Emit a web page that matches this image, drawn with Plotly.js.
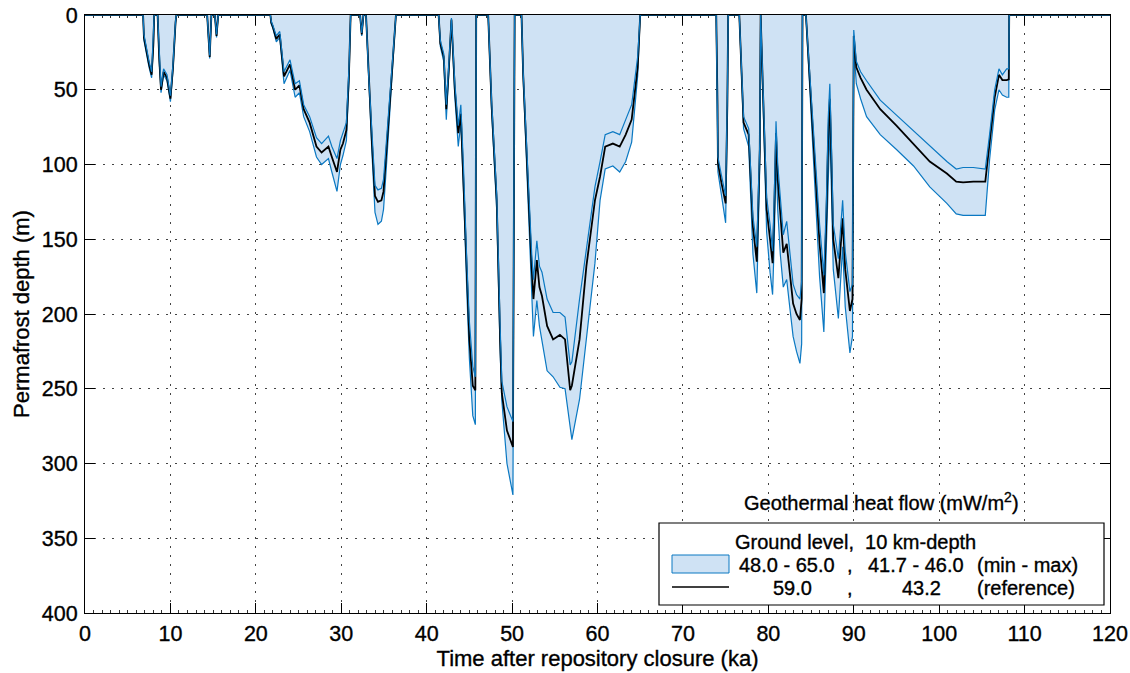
<!DOCTYPE html>
<html>
<head>
<meta charset="utf-8">
<script src="https://cdn.plot.ly/plotly-3.0.1.min.js"></script>
<style>
  html, body { margin: 0; padding: 0; background: #ffffff; }
  #chart { width: 1130px; height: 673px; }
  #chart svg text { stroke: #000000; stroke-width: 0.35px; }
</style>
</head>
<body>
<div id="chart"></div>
<script>
// Time after repository closure (ka)
const time = [
  0, 6.8, 6.9, 7.2, 7.5, 7.8, 8.0, 8.1,
  8.5, 8.7, 8.9, 9.2, 9.6, 10.0, 10.3, 10.6, 10.7,
  14.3, 14.6, 14.8, 15.2, 15.4, 15.6,
  21.7, 21.8, 22.0, 22.4, 22.8, 23.3, 24.0, 24.6, 25.1, 25.6, 26.3, 27.1, 27.7, 28.5, 28.9, 29.5, 29.9, 30.2, 30.6, 30.9, 31.1,
  32.2, 32.4, 32.6,
  32.9, 33.2, 33.6, 33.95, 34.3, 34.7, 34.95, 35.3, 35.9, 36.4,
  41.4, 41.6, 42.0, 42.3, 42.6, 42.9, 43.3, 43.7, 44.0, 44.3, 44.7, 45.0, 45.4, 45.7, 45.8,
  47.2, 47.6, 48.2, 48.6, 48.8, 49.4, 50.1, 50.3,
  51.1, 51.3, 51.9, 52.3, 52.5, 52.9, 53.2, 53.5, 54.1, 54.8, 55.6, 56.2, 56.8, 57.0, 57.9, 58.7, 59.7, 60.3, 60.9, 61.8, 62.6, 63.3, 64.0, 64.7, 65.0,
  73.9, 74.05, 74.1, 74.5, 75.0, 75.2, 75.3,
  76.6, 77.1, 77.7, 78.2, 78.65, 78.85, 79.0, 79.1,
  79.3, 79.6, 79.8, 80.2, 80.5, 80.7, 80.9, 81.1, 81.4, 81.75, 82.15, 82.5, 82.9, 83.3, 83.7, 83.9, 84.0,
  84.4, 84.6, 85.3, 86.0, 86.5, 86.8, 87.0, 87.2, 87.4, 87.6, 88.2, 88.7, 89.0, 89.55, 89.85,
  90.0, 90.3, 90.8, 91.5, 93.1, 95.0, 97.0, 98.9, 100.9, 102.0, 102.8, 104.0, 105.4, 105.9, 106.5, 107.0, 107.4, 107.9, 108.15, 108.2,
  120
];

// Reference case (59.0 / 43.2 mW/m2), permafrost depth (m)
const depthRef = [
  0, 0, 15, 25, 33, 40, 20, 0,
  0, 30, 50, 38, 42, 56, 35, 5, 0,
  0, 28, 0, 0, 14, 0,
  0, 5, 8, 16, 13, 41, 33, 50, 47, 63, 72, 88, 92, 88, 95, 105, 90, 86, 77, 40, 0,
  0, 13, 0,
  0, 41, 86, 121, 125, 124, 118, 90, 41, 0,
  0, 19, 28, 63, 35, 3, 50, 79, 66, 108, 175, 217, 248, 251, 0,
  0, 60, 124, 217, 253, 278, 289, 0,
  0, 40, 124, 170, 190, 164, 182, 188, 208, 217, 214, 217, 251, 248, 217, 168, 124, 108, 88, 86, 88, 80, 70, 35, 0,
  0, 60, 99, 112, 126, 60, 0,
  0, 72, 80, 142, 165, 128, 90, 0,
  40, 90, 130, 150, 166, 130, 79, 110, 135, 159, 153, 171, 193, 200, 204, 190, 0,
  0, 20, 86, 153, 186, 135, 84, 56, 100, 150, 176, 136, 170, 198, 190,
  14, 35, 42, 50, 63, 74, 86, 98, 106, 111.5, 112, 111.5, 111.5, 86, 55, 40, 43.5, 43.5, 43, 0,
  0
];

// Shallowest depth of the min-max range (m)
const depthShallow = [
  0, 0, 13, 23, 31, 38, 18, 0,
  0, 28, 48, 36, 40, 54, 33, 4, 0,
  0, 27, 0, 0, 13, 0,
  0, 4, 7, 14, 11, 38, 30, 46, 44, 60, 68, 82, 86, 81, 88, 96, 84, 79, 72, 36, 0,
  0, 12, 0,
  0, 39, 82, 114, 117, 116, 110, 84, 38, 0,
  0, 17, 26, 60, 32, 2, 46, 74, 60, 100, 165, 205, 235, 242, 0,
  0, 57, 120, 208, 245, 262, 272, 0,
  0, 38, 118, 160, 177, 151, 168, 172, 190, 199, 199, 202, 234, 232, 190, 155, 115, 98, 80, 78, 80, 70, 60, 28, 0,
  0, 55, 95, 107, 121, 55, 0,
  0, 68, 76, 135, 155, 120, 85, 0,
  37, 85, 122, 140, 158, 120, 71, 100, 125, 147, 138, 158, 180, 187, 190, 178, 0,
  0, 18, 80, 140, 174, 124, 70, 46, 90, 140, 163, 124, 158, 185, 180,
  10, 31, 38, 44, 57, 67, 77.5, 88, 98, 103, 102, 102, 103, 80, 50, 36, 40, 36, 36, 0,
  0
];

// Deepest depth of the min-max range (m)
const depthDeep = [
  0, 0, 17, 27, 35, 42, 22, 0,
  0, 32, 52, 40, 44, 58, 37, 6, 0,
  0, 29, 0, 0, 15, 0,
  0, 6, 9, 18, 15, 46, 37, 55, 52, 68, 78, 95, 100, 96, 105, 118, 100, 94, 84, 45, 0,
  0, 14, 0,
  0, 44, 93, 132, 140, 138, 130, 100, 48, 0,
  0, 21, 31, 70, 38, 4, 55, 88, 72, 115, 185, 230, 268, 274, 0,
  0, 64, 130, 225, 258, 300, 321, 0,
  0, 42, 130, 190, 215, 191, 208, 218, 238, 242, 249, 250, 276, 284, 257, 217, 166, 124, 103, 101, 105, 98, 85, 41, 0,
  0, 65, 105, 120, 139, 70, 0,
  0, 76, 88, 160, 186, 145, 100, 0,
  45, 100, 145, 172, 187, 150, 95, 130, 160, 182, 177, 195, 215, 225, 233, 220, 0,
  0, 23, 95, 175, 212, 150, 100, 75, 120, 170, 203, 155, 195, 226, 215,
  20, 46, 56, 68, 80, 90, 101, 115, 126, 133, 134, 134, 134, 97, 63.5, 50, 53.5, 55, 55, 0,
  0
];

const xTicks = [0, 10, 20, 30, 40, 50, 60, 70, 80, 90, 100, 110, 120];
const yTicks = [0, 50, 100, 150, 200, 250, 300, 350, 400];

const BLUE = '#0a78c2';
const FILL = 'rgb(207,226,244)';
const FONT = 'Liberation Sans, Arial, Helvetica, sans-serif';

const traces = [
  { x: time, y: depthDeep, type: 'scatter', mode: 'lines', fill: 'tozeroy', fillcolor: FILL,
    line: { color: BLUE, width: 1.2 }, hoverinfo: 'skip', showlegend: false },
  { x: time, y: depthRef, type: 'scatter', mode: 'lines',
    line: { color: '#000000', width: 1.8 }, hoverinfo: 'skip', showlegend: false },
  { x: time, y: depthShallow, type: 'scatter', mode: 'lines',
    line: { color: BLUE, width: 1.2 }, hoverinfo: 'skip', showlegend: false }
];

// Legend geometry in paper coords (plot area: x 85..1110, y 15..613)
const px = v => (v - 85) / 1025;
const py = v => (613 - v) / 598;

const legendShapes = [
  { type: 'rect', xref: 'paper', yref: 'paper', x0: px(659), x1: px(1104), y0: py(605), y1: py(523),
    fillcolor: '#ffffff', line: { color: '#000000', width: 1.2 }, layer: 'above' },
  { type: 'rect', xref: 'paper', yref: 'paper', x0: px(672), x1: px(729), y0: py(573), y1: py(555),
    fillcolor: FILL, line: { color: BLUE, width: 1 }, layer: 'above' },
  { type: 'line', xref: 'paper', yref: 'paper', x0: px(672), x1: px(729), y0: py(587), y1: py(587),
    line: { color: '#000000', width: 1.5 }, layer: 'above' }
];

const ann = (text, x, y, xanchor) => ({
  text, xref: 'paper', yref: 'paper', x: px(x), y: py(y), xanchor: xanchor || 'center', yanchor: 'middle',
  showarrow: false, font: { family: FONT, size: 20, color: '#000000' }
});

const annotations = [
  ann('Geothermal heat flow (mW/m<sup>2</sup>)', 881, 501),
  ann('Ground level,  10 km-depth', 855, 542),
  ann('48.0 - 65.0', 787, 565),
  ann(',', 850, 565),
  ann('41.7 - 46.0', 916, 565),
  ann('(min - max)', 975, 565, 'left'),
  ann('59.0', 792, 588),
  ann(',', 850, 588),
  ann('43.2', 921, 588),
  ann('(reference)', 975, 588, 'left')
];

const layout = {
  width: 1130, height: 673,
  margin: { l: 85, r: 20, t: 15, b: 60 },
  paper_bgcolor: '#ffffff', plot_bgcolor: '#ffffff',
  font: { family: FONT, size: 20, color: '#000000' },
  showlegend: false,
  xaxis: {
    range: [0, 120], tickvals: xTicks, ticktext: xTicks.map(String),
    ticks: 'inside', ticklen: 10, tickwidth: 1, tickcolor: '#000000',
    showline: true, linecolor: '#000000', linewidth: 1, mirror: 'allticks',
    showgrid: true, gridcolor: '#444444', gridwidth: 1, griddash: '1.5px,7.5px',
    zeroline: false, layer: 'below traces',
    minor: { dtick: 1, tick0: 0, ticks: 'inside', ticklen: 3, tickcolor: '#333333', showgrid: false },
    tickfont: { family: FONT, size: 21.5, color: '#000000' },
    ticklabelstandoff: 1,
    title: { text: 'Time after repository closure (ka)', font: { family: FONT, size: 22, color: '#000000' }, standoff: 4 }
  },
  yaxis: {
    range: [400, 0], tickvals: yTicks, ticktext: yTicks.map(String),
    ticks: 'inside', ticklen: 10, tickwidth: 1, tickcolor: '#000000',
    showline: true, linecolor: '#000000', linewidth: 1, mirror: 'allticks',
    showgrid: true, gridcolor: '#444444', gridwidth: 1, griddash: '1.5px,7.5px',
    zeroline: false, layer: 'below traces',
    tickfont: { family: FONT, size: 21.5, color: '#000000' },
    ticklabelstandoff: 2,
    title: { text: 'Permafrost depth (m)', font: { family: FONT, size: 22, color: '#000000' }, standoff: 6 }
  },
  shapes: legendShapes,
  annotations: annotations
};

Plotly.newPlot('chart', traces, layout, { staticPlot: true, displayModeBar: false });
</script>
</body>
</html>
